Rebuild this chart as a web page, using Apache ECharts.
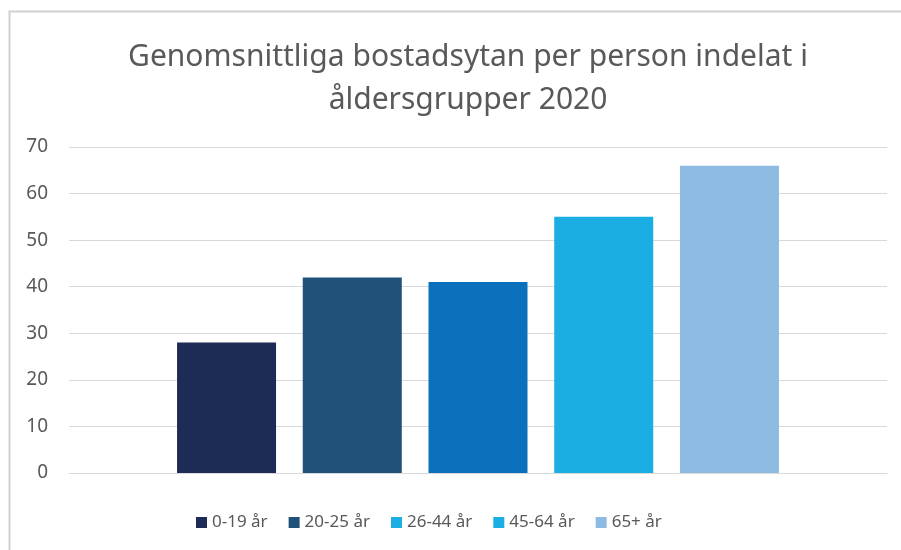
<!DOCTYPE html>
<html>
<head>
<meta charset="utf-8">
<title>Genomsnittliga bostadsytan</title>
<script src="https://cdn.jsdelivr.net/npm/echarts@6/dist/echarts.min.js"></script>
<style>
  html, body { margin: 0; padding: 0; background: #fff; }
  #chart { width: 901px; height: 550px; }
</style>
</head>
<body>
<div id="chart"></div>
<script>
// åldersgrupper och värden (kvm per person)
const groups = ['0-19 år', '20-25 år', '26-44 år', '45-64 år', '65+ år']
const values = [28, 42, 41, 55, 66]
const colors = ['#1d2b57', '#1f5179', '#0a70bc', '#1aaee3', '#8dbbe2']
// legend swatches as drawn in the original (26-44 shows the light blue)
const legendColors = ['#1d2b57', '#1f5179', '#1aaee3', '#1aaee3', '#8dbbe2']
const yTicks = [0, 10, 20, 30, 40, 50, 60, 70]

const chart = echarts.init(document.getElementById('chart'))

const textColor = '#595959'
const gridColor = '#d9d9d9'
const font = 'Noto Sans'

chart.setOption({
  animation: false,
  title: {
    text: 'Genomsnittliga bostadsytan per person indelat i\nåldersgrupper 2020',
    left: 463,
    top: 31,
    textAlign: 'center',
    textStyle: {
      fontFamily: font,
      fontSize: 30,
      fontWeight: 'normal',
      color: textColor,
      lineHeight: 43
    }
  },
  graphic: [{
    type: 'rect',
    shape: { x: 9.5, y: 11.5, width: 1000, height: 1000 },
    style: { fill: 'none', stroke: '#d0d0d0', lineWidth: 2 },
    silent: true
  }],
  legend: {
    left: 191,
    top: 509,
    itemWidth: 11,
    itemHeight: 11,
    itemGap: 21,
    icon: 'rect',
    textStyle: { fontFamily: font, fontSize: 17, color: textColor },
    data: groups.map((g, i) => ({ name: g, itemStyle: { color: legendColors[i] } }))
  },
  grid: {
    left: 69,
    right: 14,
    top: 147,
    bottom: 77
  },
  xAxis: {
    type: 'category',
    data: ['2020'],
    axisLine: { lineStyle: { color: gridColor, width: 1 } },
    axisTick: { show: false },
    axisLabel: { show: false }
  },
  yAxis: {
    type: 'value',
    min: yTicks[0],
    max: yTicks[yTicks.length - 1],
    interval: 10,
    axisLine: { show: false },
    axisTick: { show: false },
    axisLabel: { fontFamily: font, fontSize: 19, color: textColor, margin: 21 },
    splitLine: { lineStyle: { color: gridColor, width: 1 } }
  },
  series: groups.map((g, i) => ({
    name: g,
    type: 'bar',
    barWidth: 99,
    barGap: '27%',
    itemStyle: { color: colors[i] },
    data: [values[i]]
  }))
})
</script>
</body>
</html>
